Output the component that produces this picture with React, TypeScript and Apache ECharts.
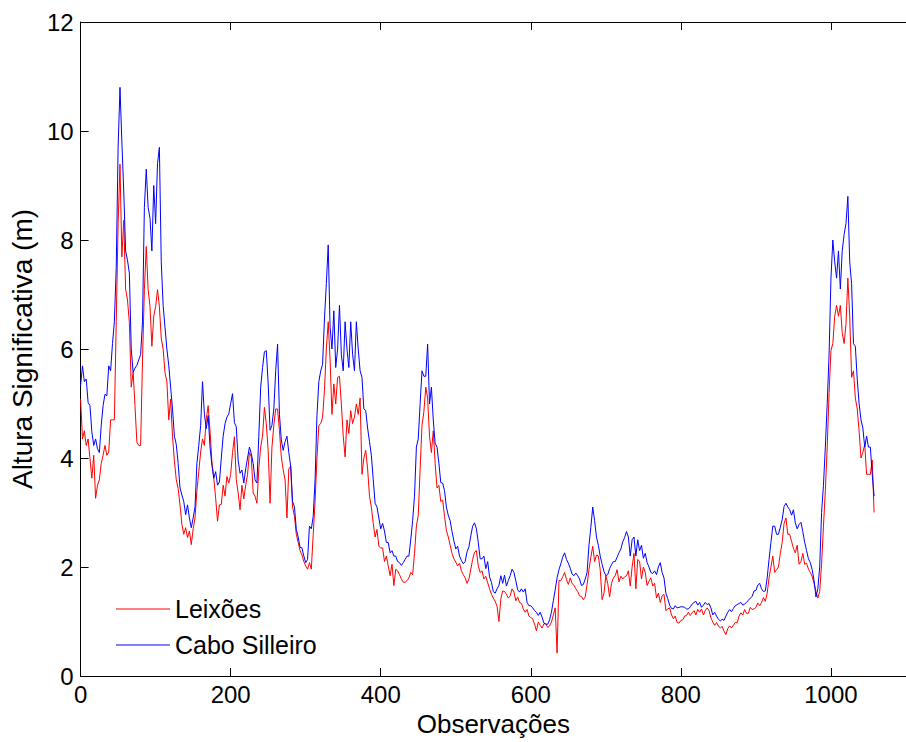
import React, { useEffect, useRef } from "react";
import * as echarts from "echarts";

// Observations are sampled every STEP units along the x axis, starting at 0
const STEP = 2.5;

// Leixões significant wave height (m), obs 0 .. 1057.5
const leixoes = [
  // 0 – 185
  5.08, 4.35, 4.5, 4.23, 4.35, 3.99, 3.63, 4.05, 3.26, 3.5,
  3.6, 3.9, 4.05, 4.23, 4.05, 4.11, 4.7, 4.7, 4.7, 6.5,
  8.3, 9.39, 7.69, 8.36, 7.1, 6.9, 6.48, 5.3, 5.57, 4.96,
  4.29, 4.23, 4.23, 5.8, 7.09, 7.88, 7.09, 6.78, 6.05, 6.6,
  6.78, 7.09, 6.78, 6.2, 6.0, 5.57, 5.4, 4.7, 5.08, 4.4,
  3.95, 3.6, 3.44, 3.14, 2.78, 2.6, 2.72, 2.54, 2.66, 2.41,
  2.7, 2.9, 3.4, 3.75, 4.11, 4.35, 4.23, 4.72, 4.96, 4.5,
  3.93, 3.63, 3.26, 2.84, 3.14,
  // 187.5 – 370
  3.15, 3.5, 3.3, 3.66, 3.54, 3.7, 4.1, 4.39, 3.6, 3.36,
  3.05, 3.5, 3.25, 3.5, 3.7, 4.1, 4.02, 3.36, 3.3, 3.17,
  3.8, 4.2, 4.4, 4.93, 4.63, 4.14, 3.17, 4.2, 4.6, 4.9,
  4.9, 4.5, 4.02, 3.78, 3.6, 2.9, 3.8, 3.85, 3.1, 2.93,
  2.6, 2.45, 2.3, 2.22, 2.1, 2.02, 1.96, 2.08, 1.96, 2.6,
  3.2, 4.0, 4.6, 4.63, 4.75, 5.24, 6.0, 6.5, 5.8, 4.8,
  5.36, 4.99, 5.48, 5.5, 4.99, 4.4, 4.02, 4.7, 4.45, 4.87,
  4.63, 4.75, 4.99, 4.8,
  // 372.5 – 555
  5.1, 3.7, 4.0, 4.14, 3.8, 3.3, 3.1, 2.8, 2.55, 2.69,
  2.38, 2.35, 2.35, 2.1, 2.2, 2.02, 1.84, 2.05, 1.66, 1.96,
  1.93, 1.86, 1.78, 1.72, 1.72, 1.75, 1.8, 1.9, 1.86, 2.25,
  2.75, 2.95, 3.8, 4.6, 4.85, 5.3, 5.1, 4.4, 4.1, 4.5,
  3.9, 3.45, 3.5, 3.2, 3.23, 2.93, 2.67, 2.55, 2.4, 2.25,
  2.15, 2.09, 2.02, 2.07, 1.93, 1.86, 1.8, 1.7, 1.78, 1.96,
  2.14, 2.27, 2.3, 2.02, 1.9, 1.93, 1.78, 1.83, 1.71, 1.6,
  1.5, 1.43, 1.37, 1.28,
  // 557.5 – 740
  1.0, 1.41, 1.56, 1.55, 1.5, 1.43, 1.47, 1.6, 1.54, 1.38,
  1.45, 1.35, 1.33, 1.23, 1.17, 1.22, 1.1, 1.07, 1.05, 0.95,
  0.83, 0.99, 0.93, 0.88, 0.96, 0.96, 0.89, 0.92, 0.99, 1.12,
  1.25, 0.42, 1.75, 1.75, 1.82, 1.9, 1.77, 1.68, 1.8, 1.7,
  1.66, 1.6, 1.55, 1.47, 1.46, 1.4, 1.45, 1.68, 1.95, 2.18,
  2.38, 2.1, 2.22, 2.2, 1.95, 1.4, 1.52, 1.84, 1.7, 1.45,
  1.7, 1.8, 1.84, 1.95, 1.73, 1.83, 1.78, 1.82, 1.84, 1.93,
  1.65, 2.0, 2.25, 1.6,
  // 742.5 – 917.5
  2.14, 2.1, 1.78, 2.0, 1.9, 1.66, 1.74, 1.8, 1.65, 1.7,
  1.43, 1.52, 1.35, 1.47, 1.5, 1.2, 1.23, 1.25, 1.12, 1.05,
  1.1, 0.98, 0.97, 1.02, 1.03, 1.1, 1.11, 1.17, 1.11, 1.16,
  1.2, 1.12, 1.22, 1.17, 1.23, 1.12, 1.2, 1.25, 1.2, 1.07,
  0.99, 0.93, 0.98, 0.92, 0.88, 0.91, 0.82, 0.76, 0.87, 0.92,
  0.88, 0.93, 0.98, 0.98, 1.1, 1.16, 1.12, 1.22, 1.15, 1.15,
  1.26, 1.22, 1.23, 1.26, 1.34, 1.29, 1.35, 1.44, 1.37, 1.52,
  1.8,
  // 920 – 1057.5
  2.0, 2.2, 1.9, 1.95, 2.0, 2.25, 2.45, 2.8, 2.9, 2.6,
  2.6, 2.47, 2.34, 2.26, 2.4, 2.05, 2.1, 2.25, 2.05, 2.07,
  1.96, 1.9, 1.82, 1.7, 1.55, 1.43, 1.55, 2.05, 2.75, 3.4,
  4.2, 5.2, 5.97, 6.1, 6.6, 6.8, 6.6, 6.8, 6.3, 6.1,
  6.45, 7.3, 6.6, 5.48, 5.6, 5.1, 4.9, 4.5, 4.0, 4.1,
  4.25, 3.7, 3.7, 3.7, 3.96, 3.0,
];

// Cabo Silleiro significant wave height (m), obs 0 .. 1057.5
const caboSilleiro = [
  // 0 – 185
  5.33, 5.69, 5.4, 5.45, 5.02, 4.96, 4.48, 4.23, 4.35, 4.17,
  4.1, 4.6, 4.96, 5.17, 5.14, 5.69, 5.6, 6.1, 6.5, 7.5,
  9.7, 10.8, 9.8, 8.9, 7.8, 7.63, 7.39, 6.0, 5.57, 5.65,
  5.7, 5.8, 5.9, 6.5, 8.6, 9.3, 8.6, 8.4, 7.8, 9.0,
  8.3, 9.4, 9.7, 7.6, 6.8, 6.4, 6.0, 5.7, 5.3, 4.9,
  4.4, 4.25, 3.9, 3.45, 3.32, 3.2, 2.96, 3.14, 2.9, 2.72,
  2.9, 3.1, 3.9, 4.23, 4.6, 5.4, 4.8, 4.54, 4.78, 4.2,
  3.87, 3.63, 3.75, 3.5, 3.56,
  // 187.5 – 370
  4.0, 4.4, 4.63, 4.75, 4.81, 5.0, 5.18, 4.65, 4.57, 3.95,
  3.72, 3.78, 3.54, 3.8, 4.0, 4.2, 4.08, 3.9, 3.6, 3.54,
  4.4, 5.3, 5.66, 5.95, 5.97, 5.36, 4.51, 4.6, 4.9, 5.6,
  6.09, 4.8, 4.33, 4.14, 4.3, 4.4, 4.1, 3.85, 3.2, 3.11,
  2.69, 2.55, 2.36, 2.35, 2.2, 2.08, 2.14, 2.75, 2.7, 2.93,
  3.6, 4.78, 5.4, 5.6, 5.72, 6.55, 7.2, 7.91, 6.4, 6.0,
  6.7, 5.66, 6.0, 6.8, 5.9, 5.6, 6.5, 6.0, 5.66, 6.5,
  5.9, 5.6, 6.5, 6.0,
  // 372.5 – 555
  5.6, 5.48, 4.9, 4.87, 4.55, 4.3, 4.05, 3.6, 3.17, 3.1,
  2.9, 2.7, 2.8, 2.66, 2.45, 2.45, 2.26, 2.3, 2.2, 2.2,
  2.1, 2.08, 2.03, 2.08, 2.14, 2.2, 2.2, 2.5, 2.85, 3.3,
  4.2, 4.35, 5.0, 5.6, 5.5, 5.5, 6.09, 4.99, 5.3, 4.7,
  4.27, 4.2, 3.9, 3.55, 3.54, 3.4, 3.1, 2.95, 2.85, 2.65,
  2.48, 2.33, 2.38, 2.2, 2.12, 2.06, 2.1, 2.28, 2.37, 2.57,
  2.75, 2.81, 2.7, 2.45, 2.15, 2.15, 2.2, 1.97, 2.1, 1.82,
  1.72, 1.55, 1.52, 1.6,
  // 557.5 – 740
  1.66, 1.84, 1.7, 1.85, 1.65, 1.75, 1.84, 1.96, 1.9, 1.75,
  1.58, 1.54, 1.6, 1.54, 1.6, 1.35, 1.29, 1.29, 1.25, 1.2,
  1.17, 1.11, 1.17, 1.08, 0.97, 0.95, 0.95, 1.03, 1.17, 1.38,
  1.58, 1.8, 1.95, 2.06, 2.18, 2.26, 2.14, 2.07, 1.98, 1.87,
  1.84, 1.89, 1.84, 1.78, 1.66, 1.68, 1.78, 1.9, 2.4, 2.73,
  3.1, 2.85, 2.55, 2.4, 2.2, 2.05, 1.92, 1.84, 1.86, 1.97,
  2.04, 2.1, 2.1, 2.18, 2.26, 2.33, 2.46, 2.54, 2.65, 2.55,
  2.2, 2.5, 2.55, 2.2,
  // 742.5 – 917.5
  2.5, 2.3, 2.4, 2.16, 2.25, 2.08, 2.0, 1.9, 1.88, 1.93,
  1.86, 2.0, 2.08, 1.9, 1.8, 1.52, 1.42, 1.3, 1.24, 1.23,
  1.29, 1.25, 1.26, 1.27, 1.27, 1.26, 1.23, 1.23, 1.27, 1.32,
  1.35, 1.37, 1.3, 1.35, 1.26, 1.3, 1.35, 1.31, 1.33, 1.25,
  1.12, 1.17, 1.1, 1.04, 1.01, 1.04, 1.02, 1.1, 1.17, 1.22,
  1.18, 1.24, 1.29, 1.31, 1.33, 1.35, 1.3, 1.32, 1.35, 1.39,
  1.43, 1.46, 1.56, 1.57, 1.67, 1.7, 1.6, 1.55, 1.56, 1.8,
  2.14,
  // 920 – 1057.5
  2.45, 2.75, 2.75, 2.6, 2.6, 2.73, 2.87, 3.11, 3.17, 3.1,
  3.05, 2.95, 3.05, 2.81, 2.7, 2.78, 2.82, 2.65, 2.45, 2.3,
  2.15, 2.08, 1.95, 1.75, 1.45, 1.6, 2.0, 3.0, 3.5, 4.2,
  5.0, 5.9, 7.3, 8.0, 7.6, 7.3, 7.8, 7.1, 7.8, 8.1,
  8.3, 8.8, 7.6, 7.2, 6.1, 6.05, 5.45, 5.0, 4.7, 4.55,
  4.2, 4.4, 4.2, 4.2, 3.7, 3.3,
];

const X_MIN = 0;
const X_MAX = 1100;
const X_INTERVAL = 200;
const Y_MIN = 0;
const Y_MAX = 12;
const Y_INTERVAL = 2;

const SERIES_NAMES = ["Leixões", "Cabo Silleiro"];
const X_NAME = "Observações";
const Y_NAME = "Altura Significativa (m)";

const FONT = "'Liberation Sans', Arial, Helvetica, sans-serif";

function toPairs(values: number[]) {
  return values.map((v, i) => [i * STEP, v]);
}

export default function App() {
  const ref = useRef<HTMLDivElement>(null);

  useEffect(() => {
    document.body.style.margin = "0";
    const chart = echarts.init(ref.current!, null, { renderer: "svg" });
    const axisLineStyle = { color: "#000", width: 1 };
    chart.setOption({
      animation: false,
      backgroundColor: "#fff",
      grid: { left: 80, top: 22, width: 835, height: 659 },
      legend: {
        left: 116,
        top: 596,
        orient: "vertical",
        padding: 0,
        itemWidth: 54,
        itemHeight: 1,
        itemGap: 10,
        icon: "rect",
        textStyle: { fontSize: 25, color: "#000", fontFamily: FONT, lineHeight: 26 },
        data: SERIES_NAMES,
      },
      xAxis: [
        {
          type: "value",
          min: X_MIN,
          max: X_MAX,
          interval: X_INTERVAL,
          position: "bottom",
          axisLine: { show: true, lineStyle: axisLineStyle },
          axisTick: { show: true, inside: true, length: 8, lineStyle: axisLineStyle },
          axisLabel: {
            showMaxLabel: false,
            fontSize: 24,
            color: "#000",
            fontFamily: FONT,
            margin: 6,
            formatter: (v: number) => String(v),
          },
          splitLine: { show: false },
          name: X_NAME,
          nameLocation: "middle",
          nameGap: 35,
          nameTextStyle: { fontSize: 26, color: "#000", fontFamily: FONT },
        },
        {
          type: "value",
          min: X_MIN,
          max: X_MAX,
          interval: X_INTERVAL,
          position: "top",
          axisLine: { show: true, lineStyle: axisLineStyle },
          axisTick: { show: true, inside: true, length: 8, lineStyle: axisLineStyle },
          axisLabel: { show: false },
          splitLine: { show: false },
        },
      ],
      yAxis: {
        type: "value",
        min: Y_MIN,
        max: Y_MAX,
        interval: Y_INTERVAL,
        axisLine: { show: true, lineStyle: axisLineStyle },
        axisTick: { show: true, inside: true, length: 8, lineStyle: axisLineStyle },
        axisLabel: {
          fontSize: 24,
          color: "#000",
          fontFamily: FONT,
          margin: 7,
          formatter: (v: number) => String(v),
        },
        splitLine: { show: false },
        name: Y_NAME,
        nameLocation: "middle",
        nameGap: 44,
        nameTextStyle: { fontSize: 28, color: "#000", fontFamily: FONT },
      },
      series: [
        {
          name: SERIES_NAMES[0],
          type: "line",
          xAxisIndex: 0,
          data: toPairs(leixoes),
          symbol: "none",
          showSymbol: false,
          lineStyle: { color: "#ff0000", width: 1 },
          itemStyle: { color: "#ff0000" },
        },
        {
          name: SERIES_NAMES[1],
          type: "line",
          xAxisIndex: 0,
          data: toPairs(caboSilleiro),
          symbol: "none",
          showSymbol: false,
          lineStyle: { color: "#0000ff", width: 1 },
          itemStyle: { color: "#0000ff" },
        },
      ],
    });
    return () => chart.dispose();
  }, []);

  return <div ref={ref} style={{ width: 906, height: 742 }} />;
}
